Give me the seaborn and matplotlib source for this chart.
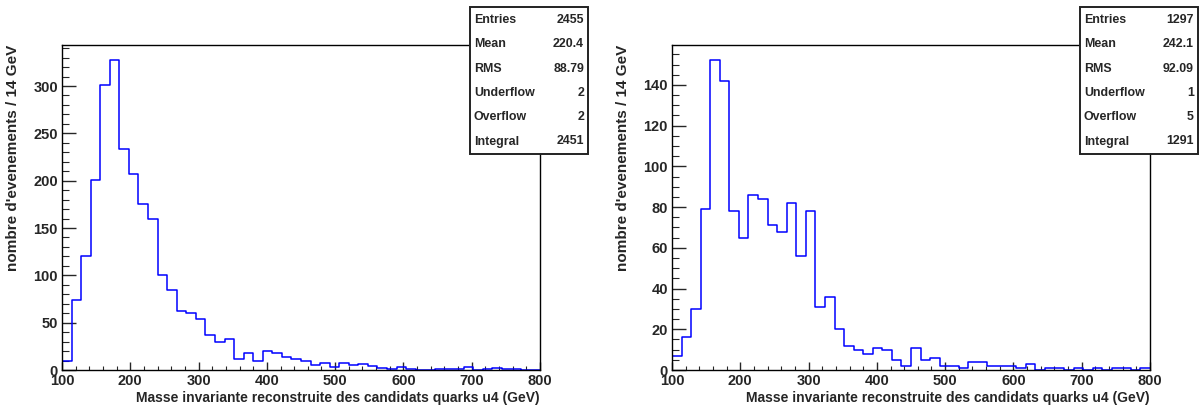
import numpy as np
import pandas as pd
import matplotlib
matplotlib.use("Agg")
import matplotlib.pyplot as plt
import seaborn as sns
from matplotlib.patches import Rectangle
from matplotlib.ticker import MultipleLocator

# bins: 100 -> 800 GeV, 14 GeV wide (50 bins)
bin_lo = 100
bin_hi = 800
bin_width = 14

counts_left = [10, 74, 120, 201, 301, 327, 234, 207, 175, 160,
               100, 85, 62, 60, 54, 37, 30, 33, 12, 18,
               10, 20, 18, 14, 12, 9, 5, 7, 3, 7,
               5, 6, 4, 2, 1, 3, 1, 0, 0, 1,
               1, 1, 3, 0, 1, 2, 1, 1, 0, 0]
counts_right = [7, 16, 30, 79, 152, 142, 78, 65, 86, 84,
                71, 68, 82, 56, 78, 31, 36, 20, 12, 10,
                8, 11, 10, 5, 2, 11, 5, 6, 2, 2,
                1, 4, 4, 2, 2, 2, 1, 3, 0, 1,
                1, 0, 1, 0, 1, 0, 1, 1, 0, 1]

stat_names = ["Entries", "Mean", "RMS", "Underflow", "Overflow", "Integral"]
stats_left = ["2455", "220.4", "88.79", "2", "2", "2451"]
stats_right = ["1297", "242.1", "92.09", "1", "5", "1291"]

xlabel = "Masse invariante reconstruite des candidats quarks u4 (GeV)"
ylabel = "nombre d'evenements / 14 GeV"

sns.set_style("ticks")
plt.rcParams['font.family'] = ['Liberation Sans', 'DejaVu Sans']
plt.rcParams['font.weight'] = 'bold'

W, H = 1199, 408
fig = plt.figure(figsize=(W / 100, H / 100), dpi=100)

centers = np.arange(bin_lo, bin_hi, bin_width) + bin_width / 2


def draw_panel(x0, counts, y_major, y_minor, stats, box_x0):
    ax = fig.add_axes([x0 / W, (H - 370) / H, 478 / W, 325 / H])
    df = pd.DataFrame({"masse": centers, "n": counts})
    sns.histplot(data=df, x="masse", weights="n", binwidth=bin_width,
                 binrange=(bin_lo, bin_hi), element="step",
                 fill=False, color="#0000ff", linewidth=1.1, ax=ax)
    ax.set_xlim(bin_lo, bin_hi)
    ax.set_ylim(0, max(counts) * 1.05)

    for s in ax.spines.values():
        s.set_visible(True)
        s.set_linewidth(1.0)
        s.set_color("black")

    ax.xaxis.set_major_locator(MultipleLocator(100))
    ax.xaxis.set_minor_locator(MultipleLocator(20))
    ax.yaxis.set_major_locator(MultipleLocator(y_major))
    ax.yaxis.set_minor_locator(MultipleLocator(y_minor))
    ax.tick_params(axis="x", which="major", direction="in", length=6, width=1,
                   labelsize=10.5, pad=3)
    ax.tick_params(axis="x", which="minor", direction="in", length=3, width=0.8)
    ax.tick_params(axis="y", which="major", direction="in", length=10, width=1,
                   labelsize=10.5, pad=3)
    ax.tick_params(axis="y", which="minor", direction="in", length=5, width=0.8)
    for lab in ax.get_xticklabels() + ax.get_yticklabels():
        lab.set_fontweight("bold")

    ax.set_xlabel(xlabel, fontsize=10, fontweight="bold", loc="right")
    ax.xaxis.set_label_coords(1.0, -0.065)
    ax.set_ylabel(ylabel, fontsize=11, fontweight="bold", loc="top")
    ax.yaxis.set_label_coords(-0.088, 1.0)

    # stats box, ROOT style
    bx0, bx1, by0, by1 = box_x0, box_x0 + 118, 7, 154
    fig.add_artist(Rectangle((bx0 / W, 1 - by1 / H), (bx1 - bx0) / W,
                             (by1 - by0) / H, transform=fig.transFigure,
                             facecolor="white", edgecolor="#222222",
                             linewidth=1.4, zorder=5))
    for i, (name, val) in enumerate(zip(stat_names, stats)):
        yy = 1 - (20 + i * 24.3) / H
        fig.text((bx0 + 4) / W, yy, name, fontsize=8.9, fontweight="bold",
                 ha="left", va="center", zorder=6)
        fig.text((bx1 - 4) / W, yy, val, fontsize=8.9, fontweight="bold",
                 ha="right", va="center", zorder=6)
    return ax


draw_panel(62, counts_left, 50, 10, stats_left, 470)
draw_panel(672, counts_right, 20, 5, stats_right, 1080)

fig.savefig("out.png", dpi=100)
